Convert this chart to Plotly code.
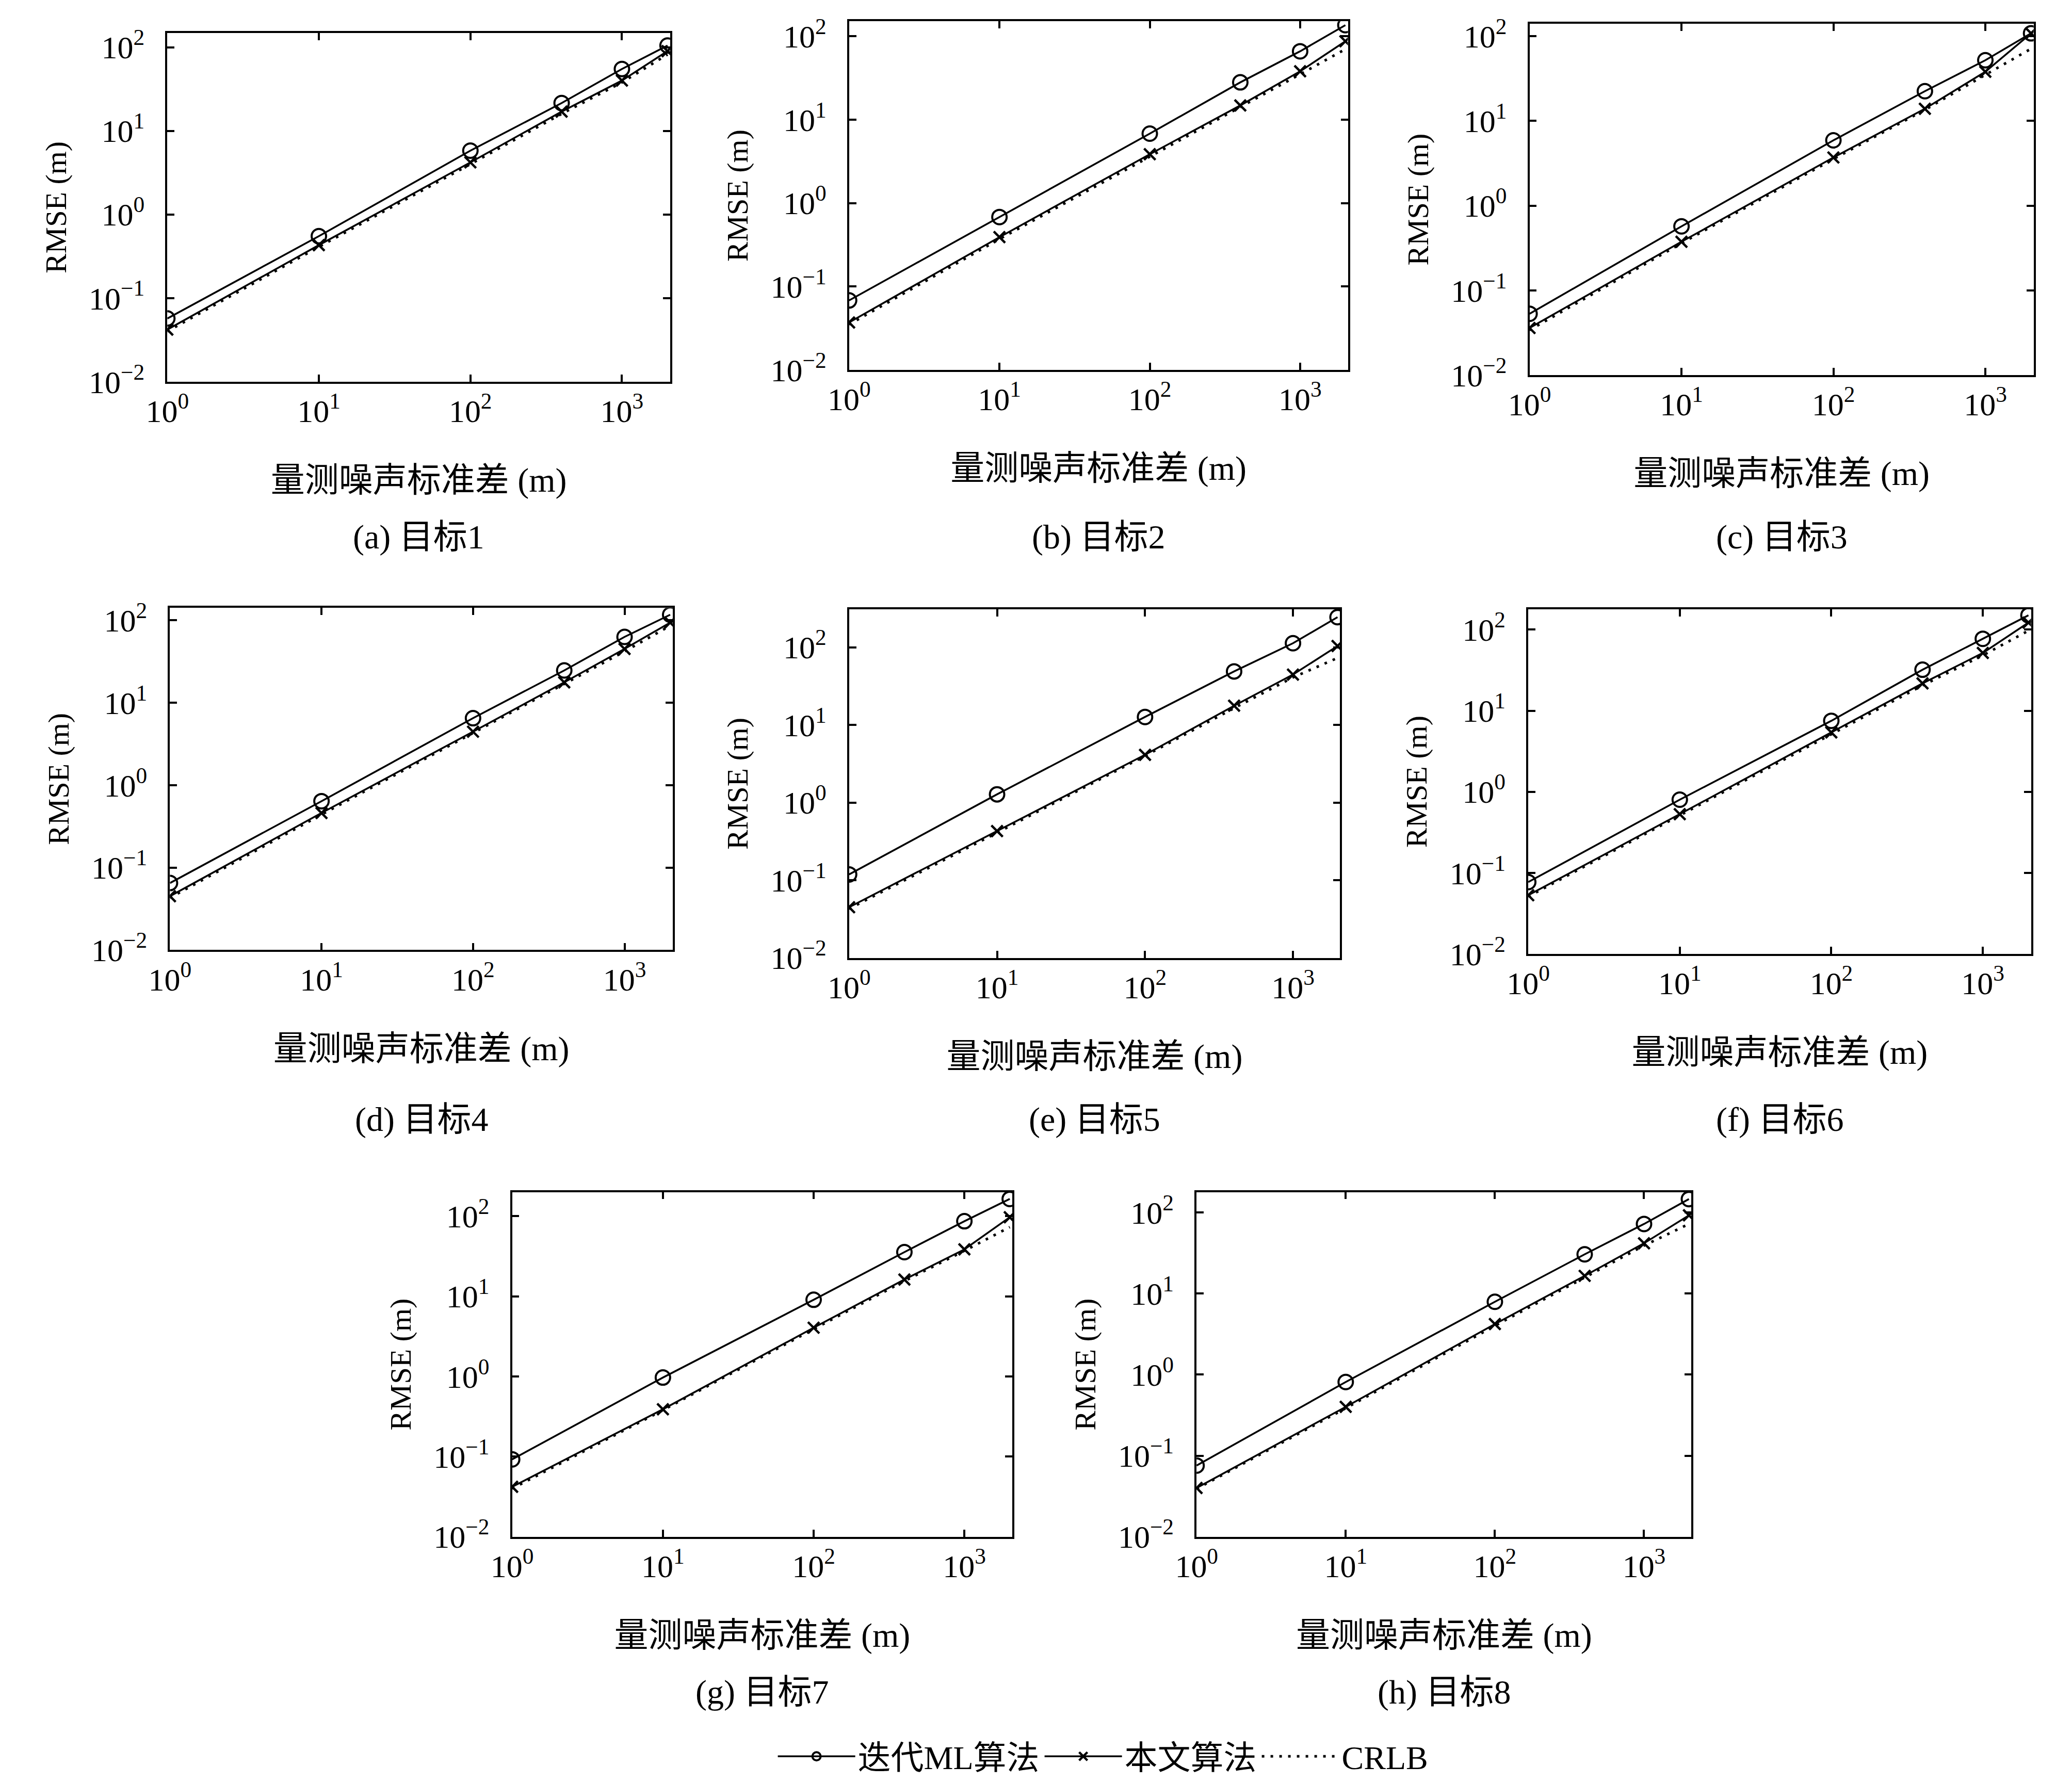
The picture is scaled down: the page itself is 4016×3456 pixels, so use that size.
import plotly.graph_objects as go

# noise std (m) on the x axis
x_noise = [1, 10, 100, 400, 1000, 2000]

# RMSE (m): iterative ML, proposed method, CRLB
ml_1 = [0.057, 0.55, 5.8, 21.5, 55, 105]
prop_1 = [0.042, 0.43, 4.2, 17, 40, 90]
crlb_1 = [0.040, 0.41, 4.0, 16, 38, 82]

ml_2 = [0.068, 0.68, 6.8, 28, 66, 136]
prop_2 = [0.037, 0.39, 3.85, 14.8, 38, 87]
crlb_2 = [0.035, 0.37, 3.6, 14, 35, 70]

ml_3 = [0.053, 0.57, 5.9, 22.4, 52, 108]
prop_3 = [0.036, 0.375, 3.7, 13.9, 38, 108]
crlb_3 = [0.034, 0.36, 3.55, 13.5, 35, 71]

ml_4 = [0.065, 0.64, 6.5, 24.7, 63, 117]
prop_4 = [0.045, 0.46, 4.46, 17.7, 45, 94]
crlb_4 = [0.043, 0.44, 4.3, 17, 42, 86]

ml_5 = [0.119, 1.28, 12.7, 49, 113, 245]
prop_5 = [0.045, 0.43, 4.13, 17.7, 44.6, 104]
crlb_5 = [0.043, 0.41, 4.0, 16.5, 41, 73]

ml_6 = [0.077, 0.80, 7.5, 32, 77, 150]
prop_6 = [0.053, 0.53, 5.4, 21.7, 51.5, 122]
crlb_6 = [0.051, 0.51, 5.1, 20.5, 48, 97]

ml_7 = [0.0925, 0.97, 9.06, 35.6, 86.5, 164]
prop_7 = [0.042, 0.39, 4.06, 16.2, 38.5, 97]
crlb_7 = [0.040, 0.38, 3.9, 15.5, 37, 73]

ml_8 = [0.0756, 0.81, 7.9, 30.4, 72, 146]
prop_8 = [0.040, 0.40, 4.2, 16.5, 41.6, 92]
crlb_8 = [0.039, 0.385, 4.0, 15.8, 39, 72]

captions = ["(a) 目标1", "(b) 目标2", "(c) 目标3", "(d) 目标4",
            "(e) 目标5", "(f) 目标6", "(g) 目标7", "(h) 目标8"]
legend_names = ["迭代ML算法", "本文算法", "CRLB"]

x_tickvals = [1, 10, 100, 1000]
x_ticktext = ["10<sup>0</sup>", "10<sup>1</sup>", "10<sup>2</sup>", "10<sup>3</sup>"]
y_tickvals = [0.01, 0.1, 1, 10, 100]
y_ticktext = ["10<sup>−2</sup>", "10<sup>−1</sup>", "10<sup>0</sup>",
              "10<sup>1</sup>", "10<sup>2</sup>"]

x_title = "量测噪声标准差 (m)"
y_title = "RMSE (m)"

series = [(ml_1, prop_1, crlb_1), (ml_2, prop_2, crlb_2), (ml_3, prop_3, crlb_3),
          (ml_4, prop_4, crlb_4), (ml_5, prop_5, crlb_5), (ml_6, prop_6, crlb_6),
          (ml_7, prop_7, crlb_7), (ml_8, prop_8, crlb_8)]

# panel boxes measured on a 1568x1349 view: x0, x1, y bottom, y top, log10 of y max
W, H = 1568.0, 1349.0
boxes = [
    (124, 506, 287, 22, 2.17),
    (642, 1021, 278, 13, 2.18),
    (1159, 1542, 282, 15, 2.145),
    (126, 508, 719, 459, 2.15),
    (642, 1015, 725, 460, 2.49),
    (1158, 1540, 722, 460, 2.25),
    (386, 766, 1165, 903, 2.3),
    (906, 1282, 1165, 903, 2.25),
]
caption_rows = [405, 405, 405, 848, 848, 848, 1283, 1283]

FONT = "Liberation Serif, Noto Sans CJK SC, serif"

fig = go.Figure()
layout = {}
annotations = []

for i, (ml, prop, crlb) in enumerate(series):
    n = "" if i == 0 else str(i + 1)
    xa, ya = "x" + n, "y" + n
    first = i == 0
    fig.add_trace(go.Scatter(
        x=x_noise, y=ml, xaxis=xa, yaxis=ya, mode="lines+markers",
        name=legend_names[0], showlegend=first, legendgroup="ml",
        line=dict(color="black", width=3.5),
        marker=dict(symbol="circle-open", size=28, color="black", line=dict(width=4))))
    fig.add_trace(go.Scatter(
        x=x_noise, y=prop, xaxis=xa, yaxis=ya, mode="lines+markers",
        name=legend_names[1], showlegend=first, legendgroup="prop",
        line=dict(color="black", width=3.5),
        marker=dict(symbol="x-thin-open", size=22, color="black", line=dict(width=4.5))))
    fig.add_trace(go.Scatter(
        x=x_noise, y=crlb, xaxis=xa, yaxis=ya, mode="lines",
        name=legend_names[2], showlegend=first, legendgroup="crlb",
        line=dict(color="black", width=5, dash="5px,12px")))

    x0, x1, yb, yt, ytop = boxes[i]
    common = dict(type="log", showline=True, linecolor="black", linewidth=3.5,
                  mirror="ticks", ticks="inside", ticklen=14, tickwidth=3.5,
                  tickcolor="black", showgrid=False, zeroline=False, automargin=False,
                  tickfont=dict(family=FONT, size=62, color="black"))
    layout["xaxis" + n] = dict(
        common, domain=[x0 / W, x1 / W], anchor=ya, range=[0, 3.318],
        tickvals=x_tickvals, ticktext=x_ticktext, ticklabelstandoff=0,
        title=dict(text=x_title, standoff=78, font=dict(family=FONT, size=66, color="black")))
    layout["yaxis" + n] = dict(
        common, domain=[1 - yb / H, 1 - yt / H], anchor=xa, range=[-2, ytop],
        tickvals=y_tickvals, ticktext=y_ticktext, ticklabelstandoff=28,
        title=dict(text=y_title, standoff=26, font=dict(family=FONT, size=58, color="black")))
    annotations.append(dict(
        text=captions[i], xref="paper", yref="paper", x=(x0 + x1) / 2 / W,
        y=1 - caption_rows[i] / H, xanchor="center", yanchor="middle",
        showarrow=False, font=dict(family=FONT, size=66, color="black")))

fig.update_layout(**layout)
fig.update_layout(
    width=4000, height=3440,
    margin=dict(l=0, r=0, t=0, b=0, autoexpand=False),
    paper_bgcolor="white", plot_bgcolor="white",
    font=dict(family=FONT, color="black"),
    annotations=annotations,
    showlegend=True,
    legend=dict(orientation="h", x=835 / W, y=1 - 1332 / H, xanchor="center",
                yanchor="middle", font=dict(family=FONT, size=64, color="black"),
                itemwidth=150, bgcolor="rgba(0,0,0,0)"),
)

fig.write_html("out.html")
